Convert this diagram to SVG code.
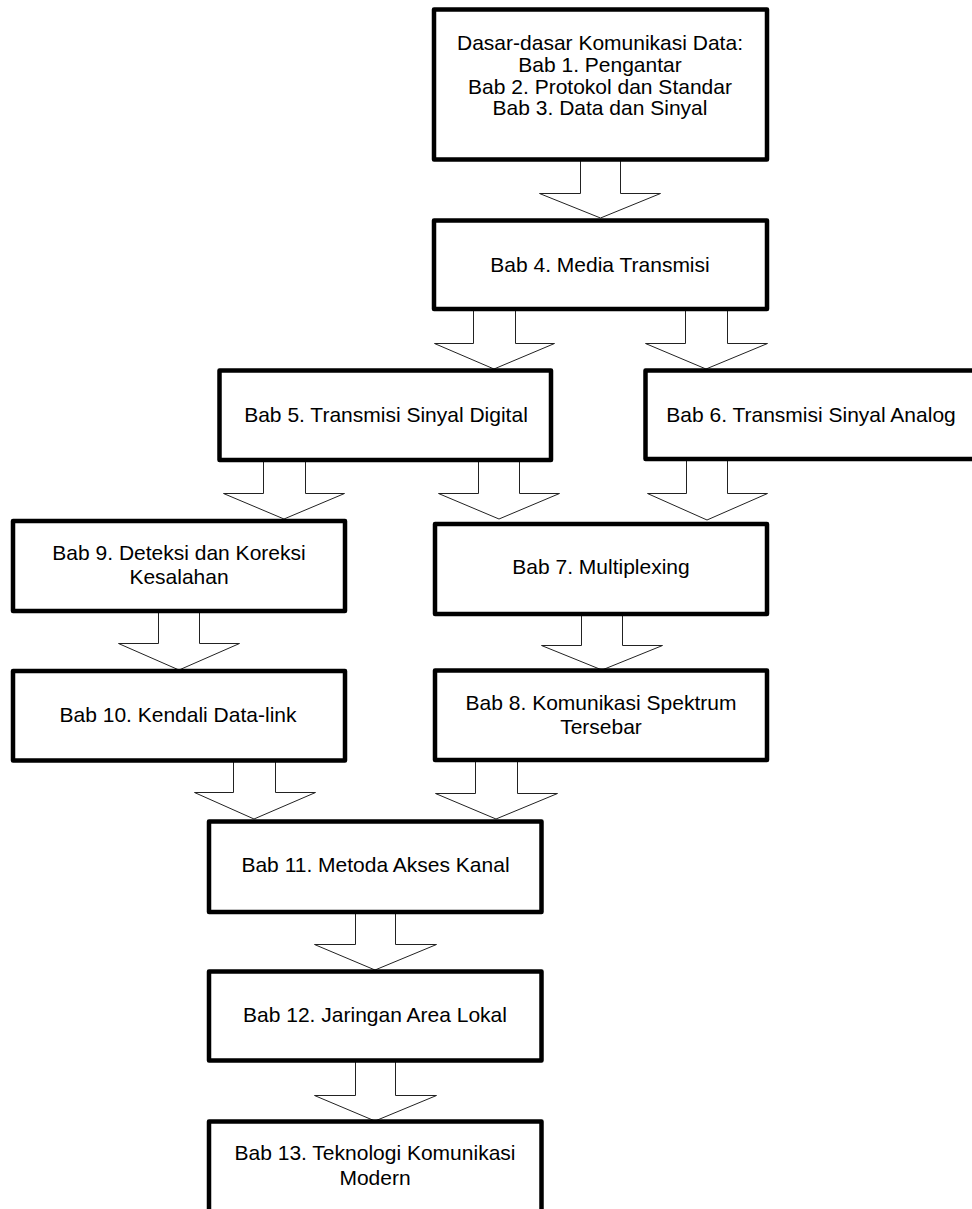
<svg xmlns="http://www.w3.org/2000/svg" width="972" height="1209" viewBox="0 0 972 1209">
<style>
.box{fill:#fff;stroke:#000;stroke-width:4.5;stroke-linejoin:round}
.arr{fill:#fff;stroke:#222;stroke-width:1}
.t{font-family:"Liberation Sans",Arial,sans-serif;font-size:21px;fill:#000;text-anchor:middle}
</style>
<rect width="972" height="1209" fill="#fff"/>
<g id="connectors">
<polygon class="arr" points="580.5,160 580.5,193.5 539.5,193.5 600.5,218 660.5,193.5 620.5,193.5 620.5,160"/>
<polygon class="arr" points="473.5,309 473.5,343.5 434.5,343.5 494,369 554.5,343.5 515.5,343.5 515.5,309"/>
<polygon class="arr" points="685.5,309 685.5,343.5 645.5,343.5 706,369 767.5,343.5 727.5,343.5 727.5,309"/>
<polygon class="arr" points="263.5,460 263.5,493.5 223.5,493.5 284,519 344.5,493.5 305.5,493.5 305.5,460"/>
<polygon class="arr" points="478.5,460 478.5,493.5 438.5,493.5 499,519 559.5,493.5 519.5,493.5 519.5,460"/>
<polygon class="arr" points="686.5,459 686.5,493.5 647.5,493.5 707,520 767.5,493.5 727.5,493.5 727.5,459"/>
<polygon class="arr" points="158.5,611 158.5,643.5 118.5,643.5 179,670 239.5,643.5 199.5,643.5 199.5,611"/>
<polygon class="arr" points="581.5,614 581.5,645.5 541.5,645.5 602,670 662.5,645.5 622.5,645.5 622.5,614"/>
<polygon class="arr" points="233.5,760 233.5,792.5 194.5,792.5 254,819 315.5,792.5 275.5,792.5 275.5,760"/>
<polygon class="arr" points="475.5,760 475.5,793.5 435.5,793.5 496,819 557.5,793.5 517.5,793.5 517.5,760"/>
<polygon class="arr" points="355.5,912 355.5,944.5 314.5,944.5 375,970 436.5,944.5 395.5,944.5 395.5,912"/>
<polygon class="arr" points="355.5,1060 355.5,1095.5 314.5,1095.5 375,1121 436.5,1095.5 395.5,1095.5 395.5,1060"/>
</g>
<g id="node-dasar">
<rect class="box" x="434" y="9.5" width="333" height="150"/>
<text class="t" x="600" y="50">Dasar-dasar Komunikasi Data:</text>
<text class="t" x="600" y="72">Bab 1. Pengantar</text>
<text class="t" x="600" y="93.5">Bab 2. Protokol dan Standar</text>
<text class="t" x="600" y="115">Bab 3. Data dan Sinyal</text>
</g>
<g id="node-bab4">
<rect class="box" x="434" y="220.5" width="333" height="88.5"/>
<text class="t" x="600" y="272">Bab 4. Media Transmisi</text>
</g>
<g id="node-bab5">
<rect class="box" x="219.5" y="370.5" width="331.5" height="89.5"/>
<text class="t" x="386" y="422">Bab 5. Transmisi Sinyal Digital</text>
</g>
<g id="node-bab6">
<rect class="box" x="645.5" y="370.5" width="333" height="88.5"/>
<text class="t" x="811" y="422">Bab 6. Transmisi Sinyal Analog</text>
</g>
<g id="node-bab9">
<rect class="box" x="13" y="521" width="332" height="90"/>
<text class="t" x="179" y="559.5">Bab 9. Deteksi dan Koreksi</text>
<text class="t" x="179" y="584">Kesalahan</text>
</g>
<g id="node-bab7">
<rect class="box" x="435" y="524" width="332" height="90"/>
<text class="t" x="601" y="574">Bab 7. Multiplexing</text>
</g>
<g id="node-bab10">
<rect class="box" x="13" y="671" width="332" height="89.5"/>
<text class="t" x="178" y="722">Bab 10. Kendali Data-link</text>
</g>
<g id="node-bab8">
<rect class="box" x="435" y="670.5" width="332" height="89.5"/>
<text class="t" x="601" y="710">Bab 8. Komunikasi Spektrum</text>
<text class="t" x="601" y="734">Tersebar</text>
</g>
<g id="node-bab11">
<rect class="box" x="209" y="821.5" width="332.5" height="90.5"/>
<text class="t" x="375.5" y="872">Bab 11. Metoda Akses Kanal</text>
</g>
<g id="node-bab12">
<rect class="box" x="209" y="971.5" width="332.5" height="89"/>
<text class="t" x="375" y="1022">Bab 12. Jaringan Area Lokal</text>
</g>
<g id="node-bab13">
<rect class="box" x="209" y="1121.5" width="332.5" height="120"/>
<text class="t" x="375" y="1160">Bab 13. Teknologi Komunikasi</text>
<text class="t" x="375" y="1185">Modern</text>
</g>
</svg>
